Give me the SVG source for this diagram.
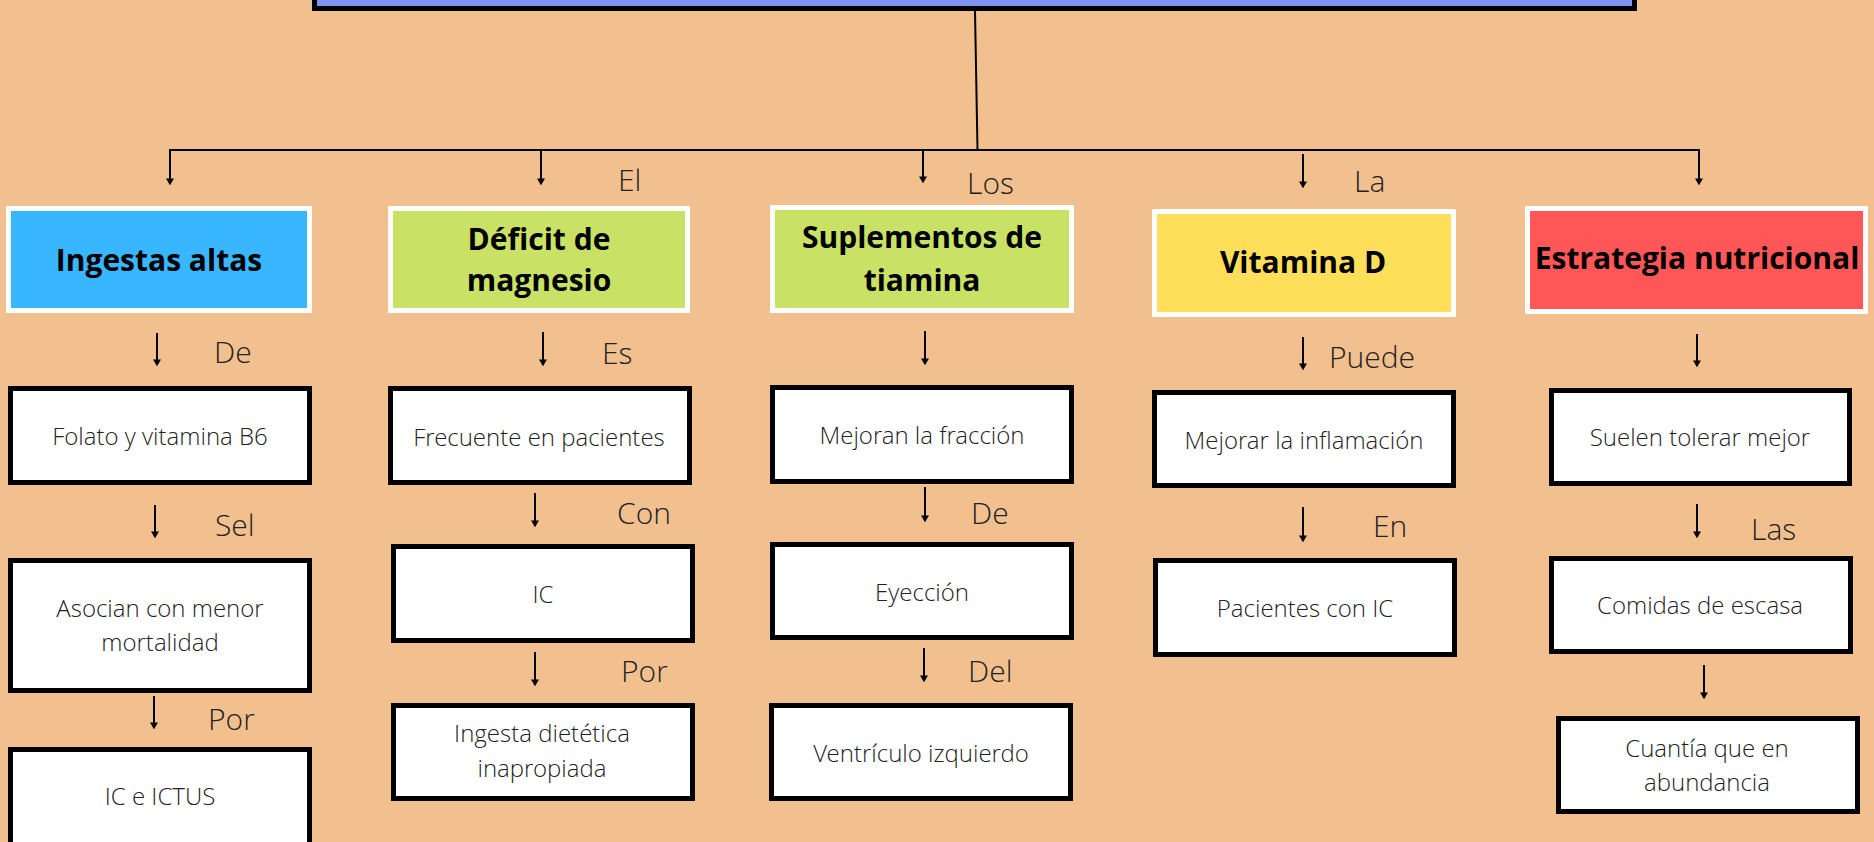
<svg xmlns="http://www.w3.org/2000/svg" width="1874" height="842" viewBox="0 0 1874 842">
<defs>
<style>
.bg{fill:#F2C08F}
.hdr{stroke:#FFFFFF;stroke-width:5}
.box{fill:#FFFFFF;stroke:#000000;stroke-width:5}
.ht{font-family:"Open Sans","Liberation Sans",sans-serif;font-weight:700;font-size:30px;fill:#000000;text-anchor:middle}
.bt{font-family:"Open Sans Light","Open Sans","Liberation Sans",sans-serif;font-weight:300;font-size:24px;fill:#222222;text-anchor:middle}
.lb{font-family:"Open Sans Light","Open Sans","Liberation Sans",sans-serif;font-weight:300;font-size:30px;fill:#222222}
.ln{stroke:#000000;stroke-width:2;fill:none}
.ar{stroke:#000000;stroke-width:2;fill:none;marker-end:url(#tip)}
</style>
<marker id="tip" markerUnits="userSpaceOnUse" markerWidth="8" markerHeight="7" refX="3.5" refY="4" viewBox="0 0 7 6">
<path d="M0,0 L7,0 L3.5,6 Z" fill="#000000"/>
</marker>
</defs>
<rect class="bg" x="0" y="0" width="1874" height="842"/>

<g id="title">
<rect x="314.5" y="-30" width="1320" height="38.5" fill="#8093F1" stroke="#000000" stroke-width="5"/>
</g>

<g id="connectors">
<line class="ln" x1="975" y1="11" x2="977.5" y2="150"/>
<line class="ln" x1="169" y1="150" x2="1700" y2="150"/>
<line class="ar" x1="170" y1="150" x2="170" y2="183"/>
<line class="ar" x1="541" y1="150" x2="541" y2="183"/>
<line class="ar" x1="923" y1="150" x2="923" y2="181"/>
<line class="ar" x1="1303" y1="154" x2="1303" y2="186"/>
<line class="ar" x1="1699" y1="150" x2="1699" y2="183"/>
<line class="ar" x1="157" y1="333" x2="157" y2="364"/>
<line class="ar" x1="155" y1="505" x2="155" y2="536"/>
<line class="ar" x1="154" y1="696" x2="154" y2="727"/>
<line class="ar" x1="543" y1="332" x2="543" y2="364"/>
<line class="ar" x1="535" y1="493" x2="535" y2="525"/>
<line class="ar" x1="535" y1="652" x2="535" y2="684"/>
<line class="ar" x1="925" y1="331" x2="925" y2="363"/>
<line class="ar" x1="925" y1="487" x2="925" y2="520"/>
<line class="ar" x1="924" y1="648" x2="924" y2="680"/>
<line class="ar" x1="1303" y1="337" x2="1303" y2="368"/>
<line class="ar" x1="1303" y1="507" x2="1303" y2="540"/>
<line class="ar" x1="1697" y1="334" x2="1697" y2="365"/>
<line class="ar" x1="1697" y1="504" x2="1697" y2="536"/>
<line class="ar" x1="1704" y1="665" x2="1704" y2="697"/>
<text class="lb" x="618" y="191">El</text>
<text class="lb" x="967" y="194">Los</text>
<text class="lb" x="1354" y="192">La</text>
<text class="lb" x="214" y="363">De</text>
<text class="lb" x="215" y="536">Sel</text>
<text class="lb" x="208" y="730">Por</text>
<text class="lb" x="602" y="364">Es</text>
<text class="lb" x="617" y="524">Con</text>
<text class="lb" x="621" y="682">Por</text>
<text class="lb" x="971" y="524">De</text>
<text class="lb" x="968" y="682">Del</text>
<text class="lb" x="1329" y="368">Puede</text>
<text class="lb" x="1373" y="537">En</text>
<text class="lb" x="1751" y="540">Las</text>
</g>

<g id="h1">
<rect class="hdr" x="8.5" y="208.5" width="301" height="102" fill="#38B6FF"/>
<text class="ht" x="159" y="271">Ingestas altas</text>
</g>
<g id="h2">
<rect class="hdr" x="390.5" y="208.5" width="297" height="102" fill="#C9E265"/>
<text class="ht" x="539" y="250">Déficit de</text>
<text class="ht" x="539" y="291">magnesio</text>
</g>
<g id="h3">
<rect class="hdr" x="772.5" y="207.5" width="299" height="103" fill="#C9E265"/>
<text class="ht" x="922" y="248">Suplementos de</text>
<text class="ht" x="922" y="291">tiamina</text>
</g>
<g id="h4">
<rect class="hdr" x="1154.5" y="211.5" width="299" height="103" fill="#FFDE59"/>
<text class="ht" x="1303" y="273">Vitamina D</text>
</g>
<g id="h5">
<rect class="hdr" x="1527.5" y="208.5" width="338" height="103" fill="#FF5757"/>
<text class="ht" x="1697" y="269">Estrategia nutricional</text>
</g>

<g id="b1a">
<rect class="box" x="10.5" y="388.5" width="299" height="94"/>
<text class="bt" x="160" y="445">Folato y vitamina B6</text>
</g>
<g id="b1b">
<rect class="box" x="10.5" y="560.5" width="299" height="130"/>
<text class="bt" x="160" y="617">Asocian con menor</text>
<text class="bt" x="160" y="651">mortalidad</text>
</g>
<g id="b1c">
<rect class="box" x="10.5" y="749.5" width="299" height="120"/>
<text class="bt" x="160" y="805">IC e ICTUS</text>
</g>

<g id="b2a">
<rect class="box" x="390.5" y="388.5" width="299" height="94"/>
<text class="bt" x="539" y="446">Frecuente en pacientes</text>
</g>
<g id="b2b">
<rect class="box" x="393.5" y="546.5" width="299" height="94"/>
<text class="bt" x="543" y="603">IC</text>
</g>
<g id="b2c">
<rect class="box" x="393.5" y="705.5" width="299" height="93"/>
<text class="bt" x="542" y="742">Ingesta dietética</text>
<text class="bt" x="542" y="777">inapropiada</text>
</g>

<g id="b3a">
<rect class="box" x="772.5" y="387.5" width="299" height="94"/>
<text class="bt" x="922" y="444">Mejoran la fracción</text>
</g>
<g id="b3b">
<rect class="box" x="772.5" y="544.5" width="299" height="93"/>
<text class="bt" x="922" y="601">Eyección</text>
</g>
<g id="b3c">
<rect class="box" x="771.5" y="705.5" width="299" height="93"/>
<text class="bt" x="921" y="762">Ventrículo izquierdo</text>
</g>

<g id="b4a">
<rect class="box" x="1154.5" y="392.5" width="299" height="93"/>
<text class="bt" x="1304" y="449">Mejorar la inflamación</text>
</g>
<g id="b4b">
<rect class="box" x="1155.5" y="560.5" width="299" height="94"/>
<text class="bt" x="1305" y="617">Pacientes con IC</text>
</g>

<g id="b5a">
<rect class="box" x="1551.5" y="390.5" width="298" height="93"/>
<text class="bt" x="1700" y="446">Suelen tolerar mejor</text>
</g>
<g id="b5b">
<rect class="box" x="1551.5" y="558.5" width="299" height="93"/>
<text class="bt" x="1700" y="614">Comidas de escasa</text>
</g>
<g id="b5c">
<rect class="box" x="1558.5" y="718.5" width="299" height="93"/>
<text class="bt" x="1707" y="757">Cuantía que en</text>
<text class="bt" x="1707" y="791">abundancia</text>
</g>
</svg>
